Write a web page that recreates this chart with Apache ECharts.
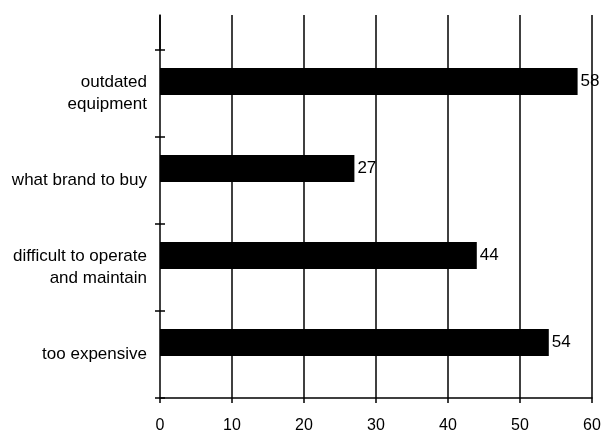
<!DOCTYPE html>
<html>
<head>
<meta charset="utf-8">
<script src="https://cdn.jsdelivr.net/npm/echarts@6/dist/echarts.min.js"></script>
<style>html,body{margin:0;padding:0;background:#fff}#c{width:601px;height:431px}</style>
</head>
<body>
<div id="c"></div>
<script>
const categories = ['too expensive', 'difficult to operate\nand maintain', 'what brand to buy', 'outdated\nequipment'];
const values = [54, 44, 27, 58];
const placeholder = [null, null, null, null];
const xTicks = [0, 10, 20, 30, 40, 50, 60];

const font = 'Liberation Sans, Arial, Helvetica, sans-serif';
const chart = echarts.init(document.getElementById('c'), null, {renderer: 'canvas'});
chart.setOption({
  animation: false,
  backgroundColor: '#fff',
  grid: [
    {left: 160, right: 9, top: 50, bottom: 33, containLabel: false, outerBoundsMode: 'none'},
    {left: 160, right: 9, top: 15, height: 35, containLabel: false, outerBoundsMode: 'none'}
  ],
  xAxis: [
    {
      gridIndex: 0, type: 'value', min: xTicks[0], max: xTicks[xTicks.length - 1], interval: 10,
      axisLine: {show: true, onZero: false, lineStyle: {color: '#000', width: 1.5}},
      axisTick: {show: true, length: 5, lineStyle: {color: '#000', width: 1.5}},
      splitLine: {show: true, lineStyle: {color: '#000', width: 1.5}},
      axisLabel: {color: '#000', fontSize: 16, fontFamily: font, margin: 20}
    },
    {
      gridIndex: 1, type: 'value', min: xTicks[0], max: xTicks[xTicks.length - 1], interval: 10,
      axisLine: {show: false}, axisTick: {show: false}, axisLabel: {show: false},
      splitLine: {show: true, lineStyle: {color: '#000', width: 1.5}}
    }
  ],
  yAxis: [
    {
      gridIndex: 0, type: 'category', data: categories, position: 'left', offset: -5,
      axisLine: {show: false, onZero: false},
      axisTick: {show: true, length: 10, lineStyle: {color: '#000', width: 1.5}},
      axisLabel: {color: '#000', fontSize: 17, fontFamily: font, margin: 18, lineHeight: 22, align: 'right', padding: [8, 0, 0, 0]}
    },
    {
      gridIndex: 1, type: 'value', min: 0, max: 1,
      axisLine: {show: true, lineStyle: {color: '#000', width: 1.5}},
      axisTick: {show: false}, axisLabel: {show: false}, splitLine: {show: false}
    }
  ],
  series: [
    {
      type: 'bar', xAxisIndex: 0, yAxisIndex: 0, data: values,
      barWidth: 27, barGap: 0,
      itemStyle: {color: '#000'},
      label: {show: true, position: 'right', distance: 3, color: '#000', fontSize: 17, fontFamily: font}
    },
    {
      type: 'bar', xAxisIndex: 0, yAxisIndex: 0, data: placeholder,
      barWidth: 24, barGap: 0, itemStyle: {color: 'rgba(0,0,0,0)'}
    }
  ]
});
</script>
</body>
</html>
